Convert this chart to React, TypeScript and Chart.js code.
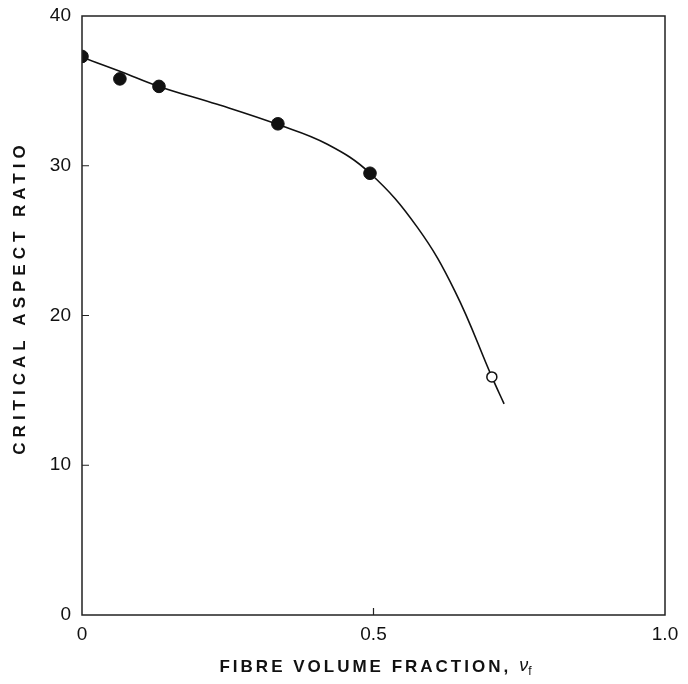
import React, { useEffect, useRef } from "react";
import { Chart, registerables } from "chart.js";

Chart.register(...registerables);

// Measured data points (filled circles)
const filledX = [0, 0.065, 0.132, 0.336, 0.494];
const filledY = [37.3, 35.8, 35.3, 32.8, 29.5];
// Open circle
const openX = [0.703];
const openY = [15.9];
// Fitted curve drawn through the data
const curveX = [0, 0.066, 0.132, 0.232, 0.336, 0.42, 0.494, 0.575, 0.64, 0.703, 0.724];
const curveY = [37.25, 36.3, 35.3, 34.1, 32.75, 31.45, 29.5, 25.9, 21.6, 15.9, 14.1];

const xTickValues = [0, 0.5, 1.0];
const xTickLabels = ["0", "0.5", "1.0"];
const yTickValues = [0, 10, 20, 30, 40];
const yTickLabels = ["0", "10", "20", "30", "40"];

const xTitle = "FIBRE VOLUME FRACTION,";
const xTitleSymbol = "ν";
const xTitleSub = "f";
const yTitle = "CRITICAL ASPECT RATIO";

const FONT = "'Liberation Sans', Arial, sans-serif";

const framePlugin = {
  id: "frame",
  afterDraw(chart: any) {
    const { ctx, chartArea } = chart;
    const xs = chart.scales.x;
    const ys = chart.scales.y;
    ctx.save();
    ctx.strokeStyle = "#222";
    ctx.lineWidth = 1.5;
    ctx.strokeRect(chartArea.left, chartArea.top, chartArea.right - chartArea.left, chartArea.bottom - chartArea.top);
    // inward ticks
    ctx.lineWidth = 1.2;
    ctx.beginPath();
    [10, 20, 30].forEach((v) => {
      const py = ys.getPixelForValue(v);
      ctx.moveTo(chartArea.left, py);
      ctx.lineTo(chartArea.left + 7, py);
    });
    const px = xs.getPixelForValue(0.5);
    ctx.moveTo(px, chartArea.bottom);
    ctx.lineTo(px, chartArea.bottom - 7);
    ctx.stroke();

    // titles
    ctx.fillStyle = "#111";
    ctx.textBaseline = "middle";
    // x title
    ctx.font = `bold 17px ${FONT}`;
    (ctx as any).letterSpacing = "3px";
    const mainW = ctx.measureText(xTitle).width;
    ctx.font = `italic 18px ${FONT}`;
    (ctx as any).letterSpacing = "0px";
    const symW = ctx.measureText(xTitleSymbol).width;
    ctx.font = `12px ${FONT}`;
    const subW = ctx.measureText(xTitleSub).width;
    const gap = 8;
    const total = mainW + gap + symW + subW;
    const cx = (chartArea.left + chartArea.right) / 2 + 2;
    let sx = cx - total / 2;
    const ty = 667;
    ctx.textAlign = "left";
    ctx.font = `bold 17px ${FONT}`;
    (ctx as any).letterSpacing = "3px";
    ctx.fillText(xTitle, sx, ty);
    (ctx as any).letterSpacing = "0px";
    sx += mainW + gap;
    ctx.font = `italic 18px ${FONT}`;
    ctx.fillText(xTitleSymbol, sx, ty - 1);
    sx += symW;
    ctx.font = `12px ${FONT}`;
    ctx.fillText(xTitleSub, sx, ty + 5);

    // y title
    ctx.save();
    ctx.translate(20, 300);
    ctx.rotate(-Math.PI / 2);
    ctx.textAlign = "center";
    ctx.font = `bold 17px ${FONT}`;
    (ctx as any).letterSpacing = "5px";
    ctx.fillText(yTitle, 2.5, 0);
    ctx.restore();
    ctx.restore();
  },
};

export default function App() {
  const ref = useRef<HTMLCanvasElement>(null);
  useEffect(() => {
    document.body.style.margin = "0";
    const canvas = ref.current!;
    const chart = new Chart(canvas, {
      type: "scatter",
      data: {
        datasets: [
          {
            type: "line",
            data: curveX.map((x, i) => ({ x, y: curveY[i] })),
            borderColor: "#111",
            borderWidth: 1.6,
            pointRadius: 0,
            fill: false,
            tension: 0.4,
            order: 3,
          } as any,
          {
            data: filledX.map((x, i) => ({ x, y: filledY[i] })),
            backgroundColor: "#111",
            borderColor: "#111",
            pointRadius: 6.3,
            pointBorderWidth: 1,
            order: 2,
          },
          {
            data: openX.map((x, i) => ({ x, y: openY[i] })),
            backgroundColor: "#fff",
            borderColor: "#111",
            pointRadius: 5,
            pointBorderWidth: 1.5,
            order: 1,
          },
        ],
      },
      options: {
        animation: false,
        responsive: false,
        layout: { padding: { top: 16, right: 23, left: 0, bottom: 0 } },
        plugins: { legend: { display: false }, tooltip: { enabled: false } },
        scales: {
          x: {
            type: "linear",
            min: 0,
            max: 1,
            border: { display: false },
            grid: { display: false, drawTicks: false },
            afterBuildTicks: (s: any) => {
              s.ticks = xTickValues.map((v) => ({ value: v }));
            },
            afterFit: (s: any) => {
              s.height = 69;
              s.paddingLeft = 0;
              s.paddingRight = 0;
            },
            ticks: {
              padding: 8,
              color: "#111",
              font: { family: FONT, size: 19 },
              callback: (v: any) => {
                const i = xTickValues.indexOf(Number(v));
                return i >= 0 ? xTickLabels[i] : "";
              },
              maxRotation: 0,
            },
          },
          y: {
            type: "linear",
            min: 0,
            max: 40,
            border: { display: false },
            grid: { display: false, drawTicks: false },
            afterBuildTicks: (s: any) => {
              s.ticks = yTickValues.map((v) => ({ value: v }));
            },
            afterFit: (s: any) => {
              s.width = 82;
              s.paddingTop = 0;
              s.paddingBottom = 0;
            },
            ticks: {
              padding: 11,
              color: "#111",
              font: { family: FONT, size: 19 },
              callback: (v: any) => {
                const i = yTickValues.indexOf(Number(v));
                return i >= 0 ? yTickLabels[i] : "";
              },
            },
          },
        },
      },
      plugins: [framePlugin],
    });
    return () => chart.destroy();
  }, []);
  return (
    <div style={{ width: 688, height: 684 }}>
      <canvas ref={ref} width={688} height={684} style={{ display: "block" }} />
    </div>
  );
}
